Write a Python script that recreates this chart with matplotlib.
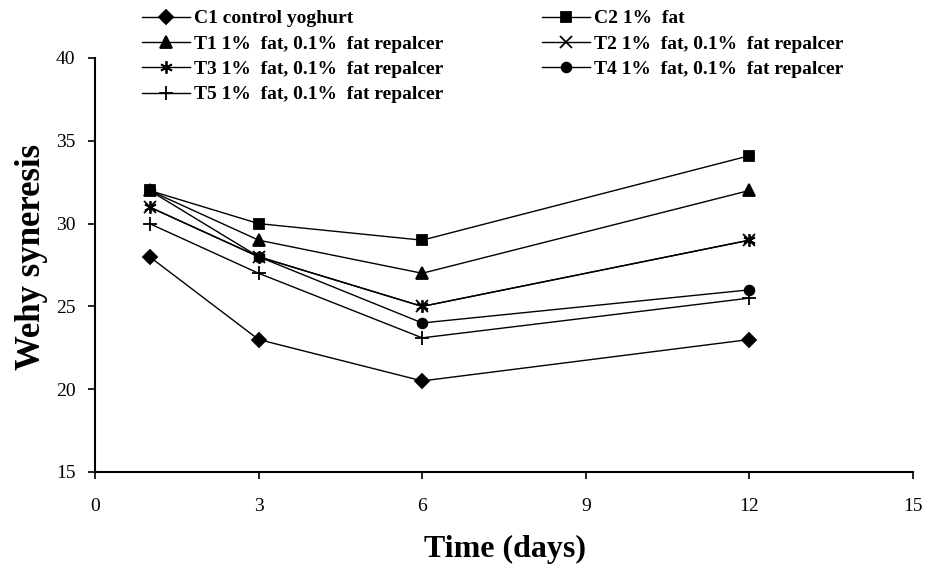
import matplotlib
matplotlib.use('Agg')
import matplotlib.pyplot as plt

plt.rcParams['font.family'] = ['Liberation Serif', 'DejaVu Serif']

days = [1, 3, 6, 12]

# whey syneresis per treatment
c1 = [28, 23, 20.5, 23]
c2 = [32, 30, 29, 34.1]
t1 = [32, 29, 27, 32]
t2 = [31, 28, 25, 29]
t3 = [31, 28, 25, 29]
t4 = [32, 28, 24, 26]
t5 = [30, 27, 23.1, 25.5]

labels = ['C1 control yoghurt', 'C2 1%  fat',
          'T1 1%  fat, 0.1%  fat repalcer', 'T2 1%  fat, 0.1%  fat repalcer',
          'T3 1%  fat, 0.1%  fat repalcer', 'T4 1%  fat, 0.1%  fat repalcer',
          'T5 1%  fat, 0.1%  fat repalcer']

xticks = [0, 3, 6, 9, 12, 15]
yticks = [15, 20, 25, 30, 35, 40]

fig = plt.figure(figsize=(9.38, 5.72), dpi=100)
ax = fig.add_axes([95/938, 1 - 472/572, (913 - 95)/938, (472 - 58)/572])

series = [c1, c2, t1, t2, t3, t4, t5]
markers = ['D', 's', '^', 'x', (6, 2, 0), 'o', '+']
sizes = [7, 7, 8, 8, 9, 7, 10]
lines = []
for vals, m, ms, lab in zip(series, markers, sizes, labels):
    ln, = ax.plot(days, vals, color='black', lw=1.0, marker=m, markersize=ms,
                  markeredgewidth=1.3, label=lab)
    lines.append(ln)

ax.set_xlim(0, 15)
ax.set_ylim(15, 40)
ax.set_xticks(xticks)
ax.set_yticks(yticks)
ax.tick_params(labelsize=14, direction='out', length=5, width=1.2)
ax.tick_params(axis='x', pad=14)
ax.tick_params(axis='y', pad=9)
ax.spines['top'].set_visible(False)
ax.spines['right'].set_visible(False)
ax.spines['left'].set_linewidth(1.5)
ax.spines['bottom'].set_linewidth(1.5)

ax.set_xlabel('Time (days)', fontsize=23, fontweight='bold')
ax.set_ylabel('Wehy syneresis', fontsize=25, fontweight='bold')
ax.xaxis.set_label_coords(0.501, -0.152)
ax.yaxis.set_label_coords(-0.058, 0.52)

# two legend blocks, left and right column
leg_kw = dict(loc='upper left', frameon=False, borderpad=0, ncol=1,
              prop={'size': 14, 'weight': 'bold'}, handlelength=2.5,
              handletextpad=0.2, labelspacing=0.4)
left = [0, 2, 4, 6]
right = [1, 3, 5]
fig.legend([lines[i] for i in left], [labels[i] for i in left],
           bbox_to_anchor=(132/938, 1.0), **leg_kw)
fig.legend([lines[i] for i in right], [labels[i] for i in right],
           bbox_to_anchor=(532/938, 1.0), **leg_kw)

fig.savefig('out.png', dpi=100)
